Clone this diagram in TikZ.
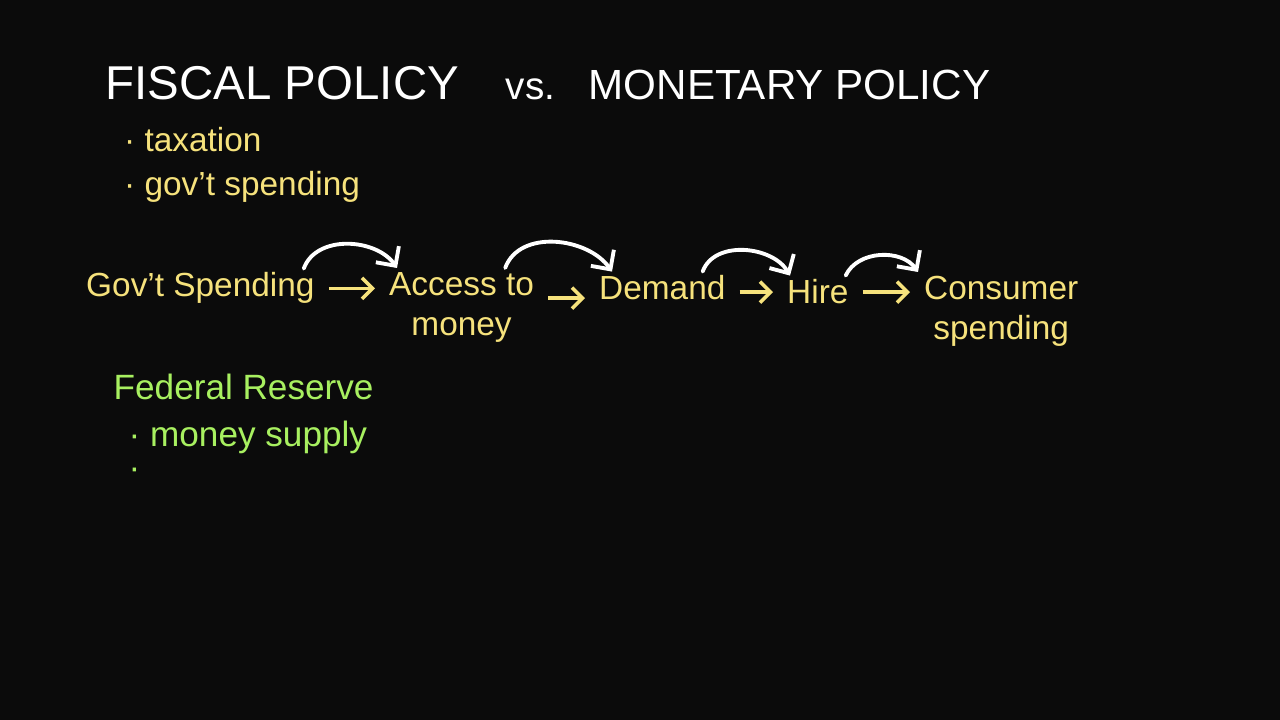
\documentclass[tikz,border=0pt]{standalone}
\usepackage{fontspec}
\setmainfont{Liberation Sans}
\usetikzlibrary{arrows.meta}
\definecolor{board}{HTML}{0B0B0B}
\definecolor{chalkyellow}{HTML}{F6E27C}
\definecolor{chalkgreen}{HTML}{A8F060}
\tikzset{
  heading/.style={text=white,font=\fontsize{13.5}{16}\selectfont,inner sep=0pt,anchor=base west},
  fiscal/.style={text=chalkyellow,font=\fontsize{9.5}{11.5}\selectfont,inner sep=1pt},
  fed/.style={text=chalkgreen,font=\fontsize{10}{12}\selectfont,inner sep=0pt,anchor=base west},
  flow/.style={-{Straight Barb[length=3pt]},chalkyellow,line width=1pt,shorten <=1mm,shorten >=1mm},
  hop/.style={-{Straight Barb[length=4pt]},white,line width=1.1pt,line cap=round},
}
\begin{document}
\begin{tikzpicture}[font=\footnotesize]
\fill[board] (0,0) rectangle (12.8,-7.2);
% title
\node[heading] (fiscal) at (1.05,-1.0) {FISCAL POLICY};
\node[heading,font=\fontsize{11}{13}\selectfont] (vs) at (5.05,-1.0) {vs.};
\node[heading,font=\fontsize{12}{14}\selectfont] (monetary) at (5.88,-1.0) {MONETARY POLICY};
% fiscal policy tools
\node[fiscal,anchor=base west] (tax) at (1.2,-1.52) {· taxation};
\node[fiscal,anchor=base west] (spend) at (1.2,-1.96) {· gov't spending};
% chain
\node[fiscal,anchor=base west] (gov) at (0.82,-2.97) {Gov't Spending};
\node[fiscal,align=center,anchor=north west] (access) at (3.85,-2.68) {Access to\\money};
\node[fiscal,anchor=base west] (demand) at (5.95,-3.0) {Demand};
\node[fiscal,anchor=base west] (hire) at (7.83,-3.04) {Hire};
\node[fiscal,align=center,anchor=north west] (consumer) at (9.2,-2.72) {Consumer\\spending};
\draw[flow] (gov.east) -- (gov.east -| access.west);
\draw[flow] ([yshift=-1mm]demand.west -| access.east) -- ([yshift=-1mm]demand.west);
\draw[flow] (hire.west -| demand.east) -- (hire.west);
\draw[flow] (hire.east) -- (hire.east -| consumer.west);
\draw[hop] ([xshift=-1.5mm]gov.north east) to[out=70,in=125] ([xshift=1.2mm]access.north west);
\draw[hop] ([xshift=-3.3mm]access.north east) to[out=70,in=125] ([xshift=1.7mm]demand.north west);
\draw[hop] ([xshift=-2.7mm]demand.north east) to[out=70,in=120] ([xshift=0.7mm]hire.north west);
\draw[hop] ([xshift=-0.7mm]hire.north east) to[out=65,in=125] ([xshift=-0.2mm]consumer.north west);
% federal reserve
\node[fed] (fed) at (1.13,-4.0) {Federal Reserve};
\node[fed] (supply) at (1.28,-4.47) {· money supply};
\node[fed] (nextitem) at (1.28,-4.8) {·};
\end{tikzpicture}
\end{document}
